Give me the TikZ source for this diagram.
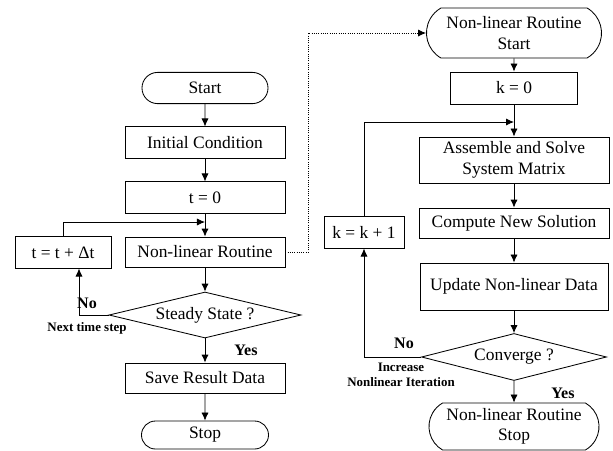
\documentclass[tikz,border=0pt]{standalone}
\usepackage{fontspec}
\setmainfont{Liberation Serif}
\usetikzlibrary{arrows.meta,shapes.geometric,shapes.misc}

\begin{document}
\begin{tikzpicture}[
  x=0.025cm, y=-0.025cm,
  >={Latex[length=2mm,width=1.8mm]},
  line width=0.6pt,
  base/.style={
    draw, inner sep=0pt, align=center,
    font=\fontsize{12.4}{14.5}\selectfont,
  },
  proc/.style={base, rectangle, minimum width=4cm, minimum height=0.78cm},
  term/.style={base, rounded rectangle, minimum width=3.15cm, minimum height=0.78cm},
  cond/.style={base, diamond, aspect=4, minimum width=4.8cm, minimum height=1.15cm},
  lbl/.style={font=\bfseries\fontsize{11.4}{13}\selectfont},
  note/.style={font=\bfseries\fontsize{9.2}{10.5}\selectfont, align=center},
]

\useasboundingbox (0,0) rectangle (613,450);

% ── time loop (left column) ──────────────────────────────
\node[term] (start) at (205,88) {Start};
\node[proc] (init)  at (205,142.5) {Initial Condition};
\node[proc] (tzero) at (205,197.5) {t = 0};
\node[proc, minimum height=0.75cm] (nlr) at (205,252) {Non-linear Routine};
\node[proc, minimum width=2.4cm] (tstep) at (63,252.5) {t = t + Δt};
\node[cond] (steady) at (205,315) {Steady State ?};
\node[proc, minimum height=0.75cm] (save) at (205,378) {Save Result Data};
\node[term, minimum width=3.175cm, minimum height=0.7cm] (stop) at (205,435) {Stop};
\coordinate (tjoin) at (205,222);

\draw[->] (start) -- (init);
\draw[->] (init) -- (tzero);
\draw[->] (tzero) -- (nlr);
\draw[->] (nlr) -- (steady);
\draw[->] (steady) -- (save);
\draw[->] (save) -- (stop);
\draw[->] (tstep.north) |- (tjoin);
\draw[->] (steady.west) -| ([xshift=4mm]tstep.south);

\node[lbl]  (notime)  at (87,303) {No};
\node[note] (nextlbl) at (87,328) {Next time step};
\node[lbl]  (yestime) at (246,350) {Yes};

% ── non-linear routine (right column) ────────────────────
\node[term, rounded rectangle arc length=120,
      minimum width=4.375cm, minimum height=1.25cm]
  (nstart) at (514,33) {Non-linear Routine\\Start};
\node[proc, minimum width=3.175cm, minimum height=0.8cm] (kzero) at (514,88) {k = 0};
\node[proc, minimum width=4.75cm, minimum height=1.15cm]
  (assemble) at (514,160) {Assemble and Solve\\System Matrix};
\node[proc, minimum width=4.75cm, minimum height=0.75cm]
  (compute) at (514,223) {Compute New Solution};
\node[proc, minimum width=4.7cm, minimum height=1.175cm]
  (update) at (514,286.5) {Update Non-linear Data};
\node[cond, minimum width=4.625cm, minimum height=1.175cm]
  (converge) at (514,357) {Converge ?};
\node[term, rounded rectangle arc length=120,
      minimum width=4.25cm, minimum height=1.175cm]
  (nstop) at (514,426.5) {Non-linear Routine\\Stop};
\node[proc, minimum width=2cm] (kstep) at (364,232.5) {k = k + 1};
\coordinate (kjoin) at (514,122);

\draw[->] (nstart) -- (kzero);
\draw[->] (kzero) -- (assemble);
\draw[->] (assemble) -- (compute);
\draw[->] (compute) -- (update);
\draw[->] (update) -- (converge);
\draw[->] (converge) -- (nstop);
\draw[->] (kstep.north) |- (kjoin);
\draw[->] (converge.west) -| (kstep.south);

\node[lbl]  (noconv)  at (404,343) {No};
\node[note] (incrlbl) at (401,375) {Increase\\Nonlinear Iteration};
\node[lbl]  (yesconv) at (563,393) {Yes};

% ── call into the routine ────────────────────────────────
\draw[->, densely dotted] (nlr.east) -- ++(23,0) |- (nstart.west);

\end{tikzpicture}
\end{document}
